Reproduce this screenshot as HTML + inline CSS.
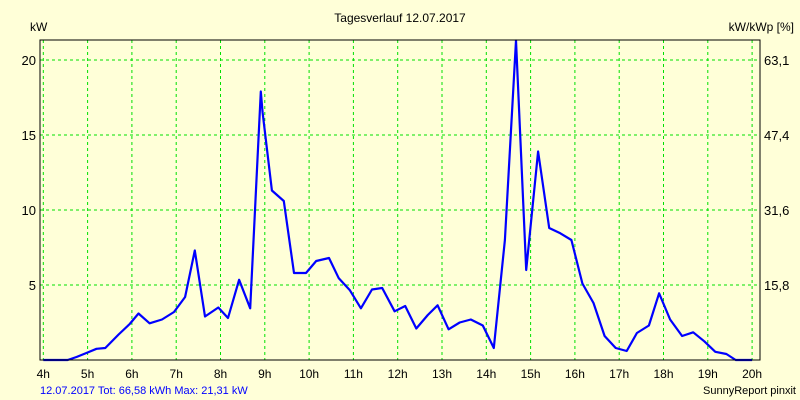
<!DOCTYPE html>
<html><head><meta charset="utf-8"><style>
body{margin:0;background:#ffffd8;}
svg{display:block;font-family:"Liberation Sans",sans-serif;}
</style></head><body>
<svg id="chart" width="800" height="400">
<rect x="0" y="0" width="800" height="400" fill="#ffffd8"/>
<text x="400" y="22" text-anchor="middle" font-size="12" fill="#000">Tagesverlauf 12.07.2017</text>
<text x="30" y="31" font-size="12" fill="#000">kW</text>
<text x="794" y="31" text-anchor="end" font-size="12" fill="#000">kW/kWp [%]</text>
<g id="grid"></g><g id="ticks"></g><g id="series"></g>
<rect x="40" y="40" width="720" height="320" fill="none" stroke="#000" stroke-width="1"/>
<text x="40" y="394" font-size="11" fill="#0000ff">12.07.2017 Tot: 66,58 kWh Max: 21,31 kW</text>
<text x="796" y="394" text-anchor="end" font-size="11" fill="#000">SunnyReport pinxit</text>
</svg>
<script>
const hourTicks=[4,5,6,7,8,9,10,11,12,13,14,15,16,17,18,19,20];
const kwTicks=[5,10,15,20];
const pctLabels=["15,8","31,6","47,4","63,1"];
const times=[4.0,4.55,4.75,5.0,5.2,5.4,5.7,5.95,6.15,6.4,6.68,6.95,7.2,7.42,7.65,7.95,8.17,8.42,8.67,8.91,8.95,9.16,9.43,9.66,9.93,10.16,10.45,10.67,10.92,11.17,11.42,11.65,11.93,12.17,12.42,12.68,12.9,13.15,13.4,13.65,13.92,14.17,14.42,14.67,14.9,15.17,15.42,15.67,15.92,16.17,16.42,16.67,16.92,17.17,17.4,17.67,17.9,18.15,18.42,18.67,18.92,19.17,19.42,19.63,20.0];
const values=[0,0,0.2,0.5,0.75,0.8,1.7,2.4,3.1,2.45,2.7,3.2,4.2,7.3,2.9,3.5,2.8,5.35,3.45,17.9,16.5,11.3,10.6,5.8,5.8,6.6,6.8,5.45,4.65,3.45,4.7,4.8,3.25,3.6,2.1,3.0,3.65,2.05,2.5,2.7,2.3,0.8,8.0,21.3,6.0,13.9,8.8,8.45,8.0,5.1,3.8,1.6,0.8,0.6,1.8,2.3,4.45,2.7,1.6,1.85,1.25,0.55,0.4,0,0];
const NS="http://www.w3.org/2000/svg";
const xs=h=>43.3+44.3*(h-4);
const ys=v=>360-15*v;
const grid=document.getElementById('grid'),ticks=document.getElementById('ticks'),series=document.getElementById('series');
hourTicks.forEach(h=>{
  const l=document.createElementNS(NS,'line');
  
  
  l.setAttribute('x1',xs(h));l.setAttribute('x2',xs(h));l.setAttribute('y1',40);l.setAttribute('y2',360);
  l.setAttribute('stroke','#00e000');l.setAttribute('stroke-dasharray','3,3');
  grid.appendChild(l);
  const t=document.createElementNS(NS,'text');
  
  
  t.setAttribute('x',xs(h));t.setAttribute('y',378);t.setAttribute('text-anchor','middle');t.setAttribute('font-size','12');
  t.textContent=h+'h';ticks.appendChild(t);
});
kwTicks.forEach((v,i)=>{
  const l=document.createElementNS(NS,'line');
  
  
  l.setAttribute('x1',40);l.setAttribute('x2',760);l.setAttribute('y1',ys(v));l.setAttribute('y2',ys(v));
  l.setAttribute('stroke','#00e000');l.setAttribute('stroke-dasharray','3,3');
  grid.appendChild(l);
  const t=document.createElementNS(NS,'text');
  
  
  t.setAttribute('x',36);t.setAttribute('y',ys(v)+5);t.setAttribute('text-anchor','end');t.setAttribute('font-size','13');
  t.textContent=v;ticks.appendChild(t);
  const r=document.createElementNS(NS,'text');
  
  
  r.setAttribute('x',764);r.setAttribute('y',ys(v)+5);r.setAttribute('font-size','13');
  r.textContent=pctLabels[i];ticks.appendChild(r);
});
const p=document.createElementNS(NS,'polyline');


p.setAttribute('points',times.map((t,i)=>xs(t).toFixed(1)+','+ys(values[i]).toFixed(1)).join(' '));
p.setAttribute('fill','none');p.setAttribute('stroke','#0000ff');p.setAttribute('stroke-width','2.2');p.setAttribute('stroke-linejoin','round');
series.appendChild(p);
</script>
</body></html>
